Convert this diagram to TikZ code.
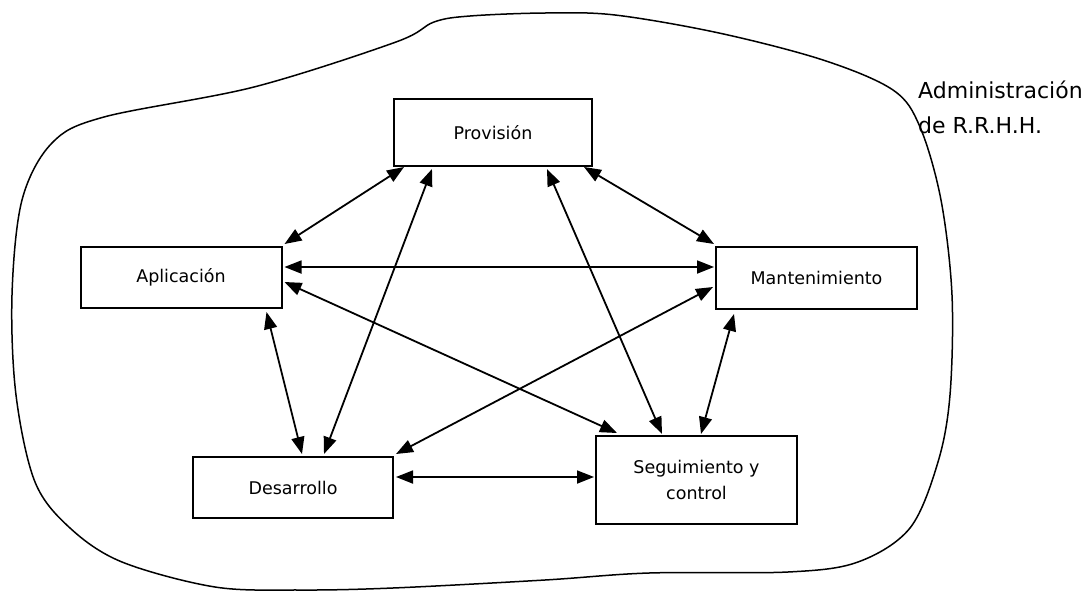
\documentclass[tikz,border=0pt]{standalone}
\usepackage{fontspec}
\setmainfont{DejaVu Sans}
\usetikzlibrary{arrows.meta}
\begin{document}
\begin{tikzpicture}[x=1pt,y=-1pt,
  area/.style={draw, line width=2pt, inner sep=0pt, align=center,
    font=\fontsize{17.5}{26}\selectfont},
  link/.style={line width=1.8pt,
    {Triangle[length=17pt,width=13pt]}-{Triangle[length=17pt,width=13pt]}},
  border/.style={line width=1.5pt},
  caption/.style={anchor=base west, inner sep=0pt, font=\fontsize{22}{26}\selectfont}]
\useasboundingbox (0,0) rectangle (1088,590);

% boundary of the system
\draw[border] plot[smooth cycle, tension=0.55] coordinates {
  (545,13) (615,15) (719,33) (823,60) (893,90) (920,127) (941,200)
  (952,295) (950,395) (938,462) (910,528) (858,562) (788,572)
  (649,573) (545,580) (393,588) (300,590) (215,587) (122,562)
  (70,528) (35,482) (16,395) (12,295) (22,200) (52,143) (104,117)
  (254,87) (396,42) (434,22) (470,16)};

\node[caption] (adm1) at (918,98) {Administración};
\node[caption] (adm2) at (918,133) {de R.R.H.H.};

% subsystems
\node[area, minimum width=198pt, minimum height=67pt] (prov) at (493,132.5) {Provisión};
\node[area, minimum width=201pt, minimum height=61pt] (apl) at (181,277.5) {Aplicación};
\node[area, minimum width=201pt, minimum height=62pt] (mant) at (816.5,278) {Mantenimiento};
\node[area, minimum width=200pt, minimum height=61pt] (des) at (293,487.5) {Desarrollo};
\node[area, minimum width=201pt, minimum height=88pt] (seg) at (696.5,480) {Seguimiento y\\control};

% relations between subsystems
\draw[link] ([xshift=11pt]prov.south west) -- ([xshift=2pt,yshift=2pt]apl.north east);
\draw[link] ([xshift=39pt,yshift=-2pt]prov.south west) -- ([xshift=132pt,yshift=2pt]des.north west);
\draw[link] ([xshift=-9pt]prov.south east) -- ([xshift=-1pt,yshift=2pt]mant.north west);
\draw[link] ([xshift=154pt,yshift=-2pt]prov.south west) -- ([xshift=67pt,yshift=1pt]seg.north west);
\draw[link] ([xshift=2pt,yshift=-21pt]apl.north east) -- ([xshift=-1pt,yshift=-21pt]mant.north west);
\draw[link] ([xshift=2pt,yshift=-36pt]apl.north east) -- ([xshift=22pt,yshift=2pt]seg.north west);
\draw[link] ([xshift=-16pt,yshift=-3pt]apl.south east) -- ([xshift=110pt,yshift=2pt]des.north west);
\draw[link] ([xshift=-2pt,yshift=-41pt]mant.north west) -- ([xshift=2pt,yshift=2pt]des.north east);
\draw[link] ([xshift=19pt,yshift=-4pt]mant.south west) -- ([xshift=106pt,yshift=1pt]seg.north west);
\draw[link] ([xshift=2pt,yshift=-21pt]des.north east) -- ([xshift=-1pt,yshift=-42pt]seg.north west);
\end{tikzpicture}
\end{document}
